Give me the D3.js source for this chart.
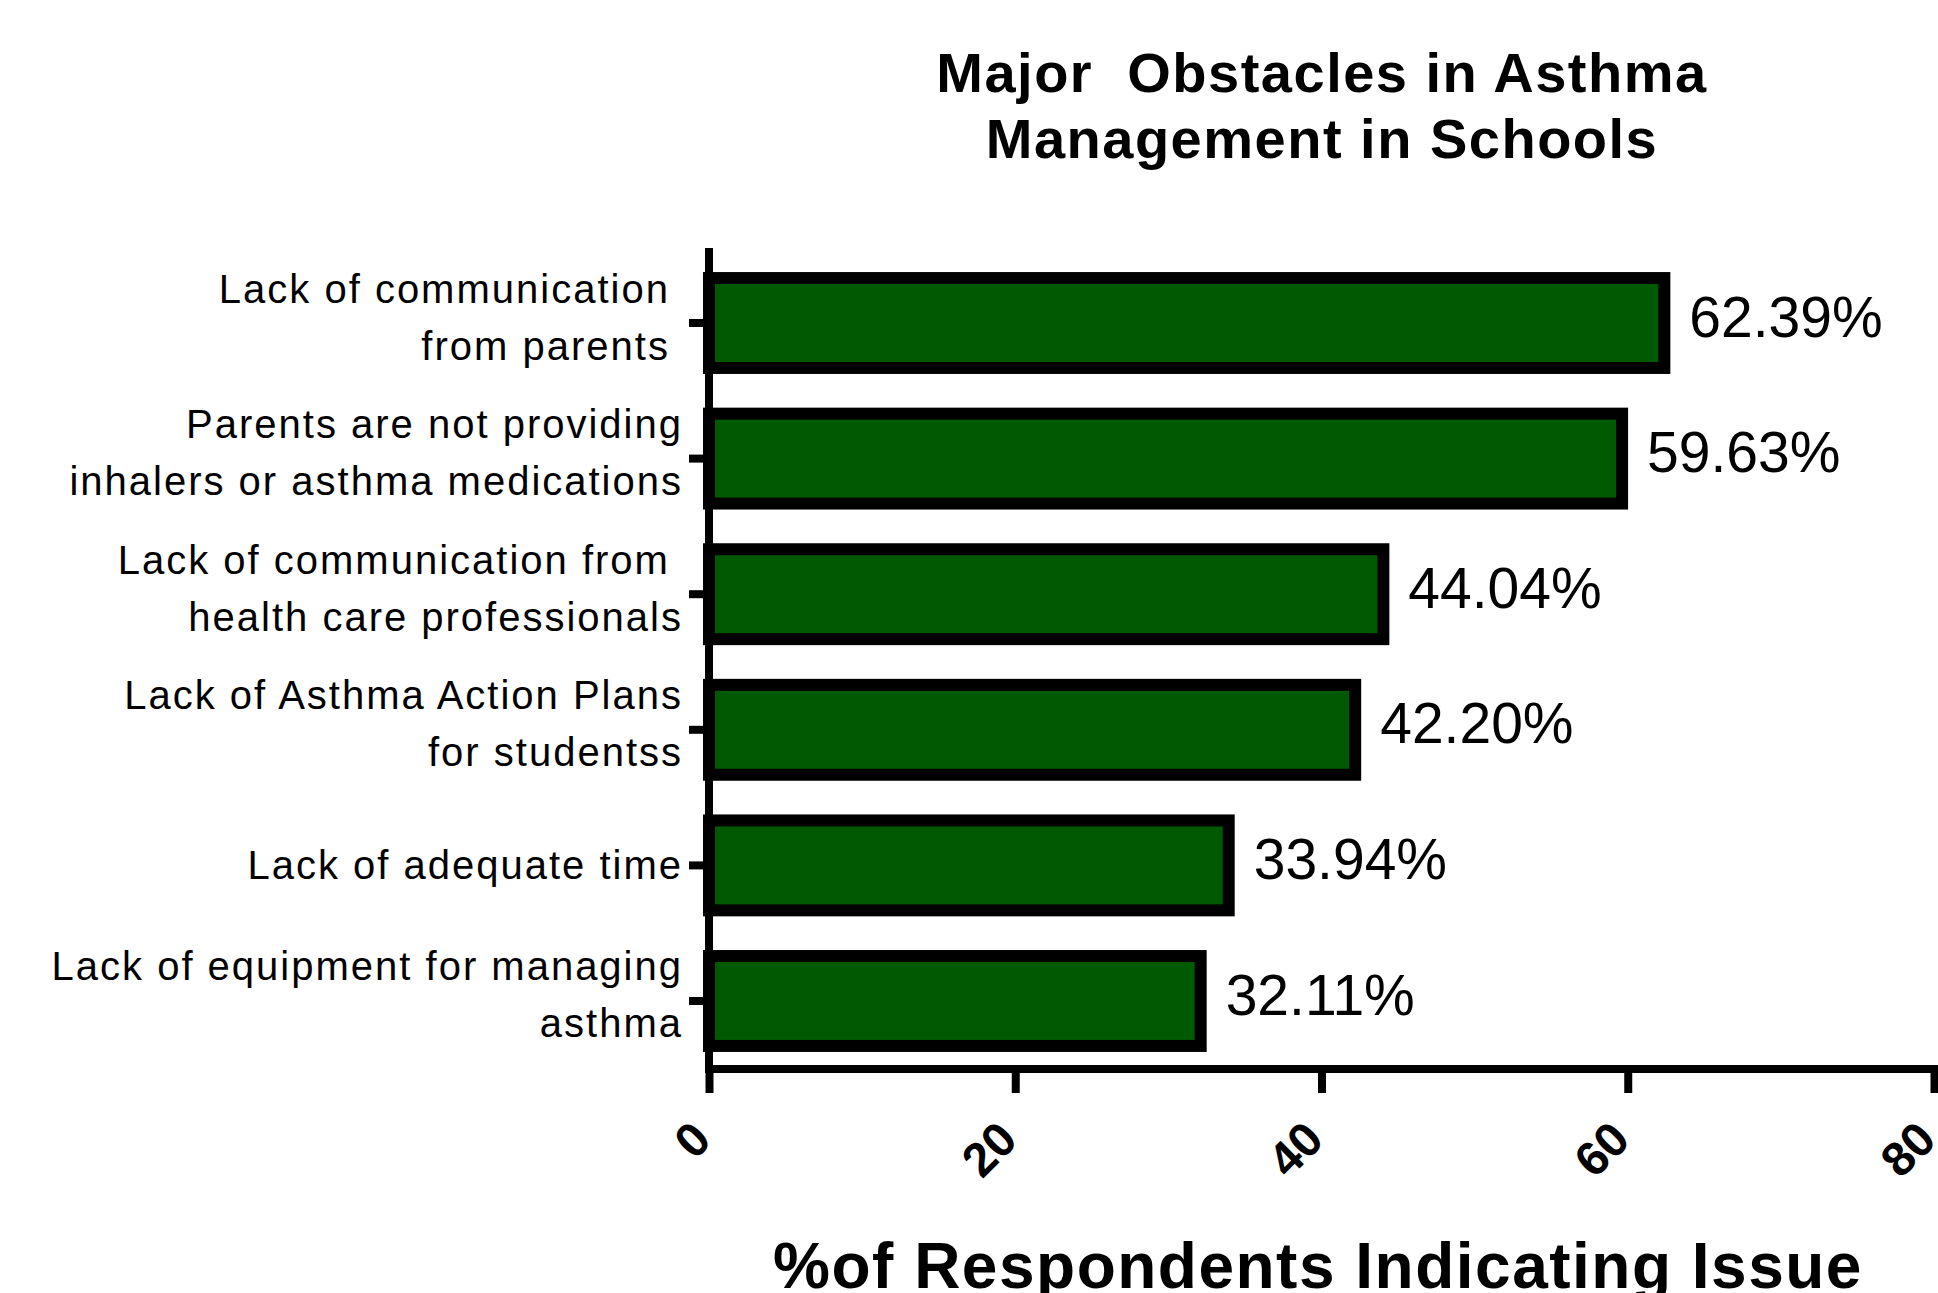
<!DOCTYPE html>
<html>
<head>
<meta charset="utf-8">
<script src="https://cdn.jsdelivr.net/npm/d3@7"></script>
<style>
  body { margin: 0; background: #fff; }
  svg { display: block; }
  text { font-family: "Liberation Sans", Arial, sans-serif; white-space: pre; }
</style>
</head>
<body>
<svg id="chart"></svg>
<script>
// data
var categories = [
  "Lack of communication \nfrom parents ",
  "Parents are not providing\ninhalers or asthma medications",
  "Lack of communication from \nhealth care professionals",
  "Lack of Asthma Action Plans\nfor studentss",
  "Lack of adequate time",
  "Lack of equipment for managing\nasthma"
];
var values = [62.39, 59.63, 44.04, 42.20, 33.94, 32.11];
var xTicks = [0, 20, 40, 60, 80];
var titleLines = ["Major  Obstacles in Asthma", "Management in Schools"];
var xTitle = "%of Respondents Indicating Issue";

var width = 1938, height = 1293;
var axisX = 709, axisY = 1069;

var svg = d3.select("#chart").attr("width", width).attr("height", height);

var x = d3.scaleLinear().domain([0, 80]).range([axisX, 1934]);
var y = d3.scaleBand().domain(categories).range([255, axisY])
  .paddingInner(0.337).paddingOuter(0.17);

// title
svg.append("text")
  .attr("text-anchor", "middle")
  .style("font-size", "56px").style("font-weight", "bold").style("letter-spacing", "1.5px")
  .selectAll("tspan").data(titleLines).enter().append("tspan")
  .attr("x", 1322)
  .attr("y", function(d, i) { return 92 + i * 66; })
  .text(function(d) { return d; });

// bars
svg.append("g").selectAll("rect").data(values).enter().append("rect")
  .attr("x", x(0))
  .attr("y", function(d, i) { return y(categories[i]); })
  .attr("width", function(d) { return x(d) - x(0); })
  .attr("height", y.bandwidth())
  .attr("fill", "#015901")
  .attr("stroke", "#000")
  .attr("stroke-width", 12);

// value labels
svg.append("g").selectAll("text").data(values).enter().append("text")
  .attr("x", function(d) { return x(d) + 25; })
  .attr("y", function(d, i) { return y(categories[i]) + y.bandwidth() / 2 - 7; })
  .attr("dy", "0.36em")
  .style("font-size", "57px")
  .text(function(d) { return d.toFixed(2) + "%"; });

// y axis
var yAxis = svg.append("g").attr("transform", "translate(" + axisX + ",0)")
  .call(d3.axisLeft(y).tickSize(20).tickSizeOuter(0).tickFormat(""));
yAxis.select(".domain").remove();
yAxis.selectAll(".tick line").attr("stroke", "#000").attr("stroke-width", 8);
yAxis.append("line").attr("x1", 0).attr("x2", 0).attr("y1", 248).attr("y2", axisY + 4)
  .attr("stroke", "#000").attr("stroke-width", 8);
yAxis.selectAll(".tick text").remove();
yAxis.selectAll(".tick").append("text")
  .attr("text-anchor", "end")
  .style("font-size", "40px").style("letter-spacing", "2px")
  .attr("fill", "#000")
  .each(function(d) {
    var lines = d.split("\n");
    var t = d3.select(this);
    var shift = lines.length > 1 ? -6 : 0;
    lines.forEach(function(l, i) {
      t.append("tspan").attr("x", -26)
        .attr("y", 14 + shift - (lines.length - 1) * 28.5 + i * 57)
        .text(l);
    });
  });

// x axis
var xAxis = svg.append("g").attr("transform", "translate(0," + axisY + ")")
  .call(d3.axisBottom(x).tickValues(xTicks).tickSize(24).tickSizeOuter(0));
xAxis.select(".domain").remove();
xAxis.append("line").attr("x1", axisX - 4).attr("x2", width).attr("y1", 0).attr("y2", 0)
  .attr("stroke", "#000").attr("stroke-width", 8);
xAxis.selectAll(".tick line").attr("stroke", "#000").attr("stroke-width", 8);
xAxis.selectAll(".tick text")
  .attr("x", 0).attr("y", 0).attr("dy", 0)
  .attr("transform", "translate(4,73) rotate(-45)")
  .style("text-anchor", "end")
  .style("font-size", "48px").style("font-weight", "bold")
  .attr("fill", "#000");

// x axis title (cut at the bottom edge, as in the source)
svg.append("text")
  .attr("x", 1318).attr("y", 1288)
  .attr("text-anchor", "middle")
  .style("font-size", "64px").style("font-weight", "bold").style("letter-spacing", "1.5px")
  .text(xTitle);
</script>
</body>
</html>
